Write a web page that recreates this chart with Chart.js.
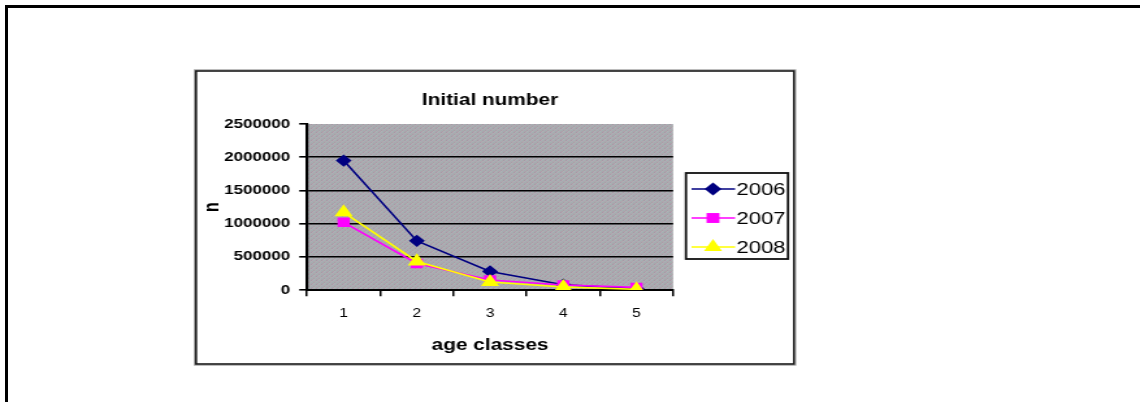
<!DOCTYPE html>
<html>
<head>
<meta charset="utf-8">
<script src="https://cdn.jsdelivr.net/npm/chart.js@4"></script>
<style>
  html, body { margin: 0; padding: 0; background: #fff; overflow: hidden; }
  #frame {
    position: absolute; left: 5px; top: 5px; width: 1200px; height: 500px;
    border-top: 3px solid #000; border-left: 3px solid #000;
  }
  #wrap {
    position: absolute; left: 0; top: 0; width: 877px; height: 402px;
    transform: scaleX(1.29989); transform-origin: 0 0;
  }
  canvas { display: block; }
</style>
</head>
<body>
<div id="frame"></div>
<div id="wrap"><canvas id="c" width="877" height="402" style="width:877px;height:402px"></canvas></div>
<script>
// Age classes on the category axis
const ageClasses = ['1', '2', '3', '4', '5'];

// Initial number per age class, one array per year
const n2006 = [1950000, 740000, 280000, 80000, 20000];
const n2007 = [1020000, 400000, 150000, 75000, 40000];
const n2008 = [1170000, 430000, 120000, 45000, 10000];

// Value axis ticks
const yTicks = [0, 500000, 1000000, 1500000, 2000000, 2500000];

const seriesNames = ['2006', '2007', '2008'];

const FONT = '"Liberation Sans", Arial, sans-serif';

// Grey speckled fill for the plot area
function makePlotPattern(ctx) {
  const p = document.createElement('canvas');
  p.width = 4; p.height = 4;
  const pc = p.getContext('2d');
  const cols = [
    ['#b9a5b2', '#9fb5b5', '#aca8ac', '#a29ca6'],
    ['#a1b1b2', '#b2a2ae', '#a8aeae', '#b5a9b3'],
    ['#acaaac', '#a4a0a8', '#b7a5b0', '#9db2b3'],
    ['#a9a3ab', '#b3afb3', '#a1b3b4', '#afa1ab']
  ];
  for (let r = 0; r < 4; r++) for (let c = 0; c < 4; c++) {
    pc.fillStyle = cols[r][c]; pc.fillRect(c, r, 1, 1);
  }
  return ctx.createPattern(p, 'repeat');
}

const boxPlugin = {
  id: 'chartBox',
  beforeDraw(chart) {
    const ctx = chart.ctx;
    const L = 150.8, T = 71, R = 610.8, B = 364;
    ctx.save();
    ctx.fillStyle = '#fff';
    ctx.fillRect(L, T, R - L, B - T);
    ctx.strokeStyle = '#a0a0a0';
    ctx.lineWidth = 1;
    ctx.strokeRect(L - 1.2, T - 1.2, R - L + 2.4, B - T + 2.4);
    ctx.strokeStyle = '#1a1a1a';
    ctx.lineWidth = 1.6;
    ctx.strokeRect(L, T, R - L, B - T);
    const a = chart.chartArea;
    ctx.fillStyle = makePlotPattern(ctx);
    ctx.fillRect(a.left, a.top, a.right - a.left, a.bottom - a.top);
    ctx.restore();
  }
};

function marker(ctx, style, x, y, r, color) {
  ctx.fillStyle = color;
  ctx.beginPath();
  if (style === 'rectRot') {
    ctx.moveTo(x, y - r); ctx.lineTo(x + r, y); ctx.lineTo(x, y + r); ctx.lineTo(x - r, y);
  } else if (style === 'rect') {
    const s = r * Math.SQRT1_2;
    ctx.rect(x - s, y - s, 2 * s, 2 * s);
  } else {
    const h = r * Math.sin(Math.PI / 3);
    ctx.moveTo(x, y - r); ctx.lineTo(x + h, y + r / 2); ctx.lineTo(x - h, y + r / 2);
  }
  ctx.closePath();
  ctx.fill();
}

const legendPlugin = {
  id: 'boxLegend',
  afterDraw(chart) {
    const ctx = chart.ctx;
    const L = 527.7, T = 173, R = 606.2, B = 259;
    ctx.save();
    ctx.fillStyle = '#fff';
    ctx.fillRect(L, T, R - L, B - T);
    ctx.strokeStyle = '#111';
    ctx.lineWidth = 1.8;
    ctx.strokeRect(L, T, R - L, B - T);
    const rows = [189, 218, 247];
    chart.data.datasets.forEach((ds, i) => {
      const y = rows[i];
      ctx.strokeStyle = ds.borderColor;
      ctx.lineWidth = 1.6;
      ctx.beginPath();
      ctx.moveTo(532, y); ctx.lineTo(565.5, y);
      ctx.stroke();
      marker(ctx, ds.pointStyle, 548.5, y, ds.pointRadius + 1.5, ds.backgroundColor);
      ctx.fillStyle = '#000';
      ctx.font = '17px ' + FONT;
      ctx.textBaseline = 'middle';
      ctx.textAlign = 'left';
      ctx.fillText(ds.label, 566.5, y + 1);
    });
    ctx.restore();
  }
};

new Chart(document.getElementById('c'), {
  type: 'line',
  data: {
    labels: ageClasses,
    datasets: [
      { label: seriesNames[0], data: n2006, borderColor: '#000080', backgroundColor: '#000080',
        pointStyle: 'rectRot', pointRadius: 5, borderWidth: 1.6, order: 3 },
      { label: seriesNames[1], data: n2007, borderColor: '#ff00ff', backgroundColor: '#ff00ff',
        pointStyle: 'rect', pointRadius: 5.5, borderWidth: 1.6, order: 2 },
      { label: seriesNames[2], data: n2008, borderColor: '#ffff00', backgroundColor: '#ffff00',
        pointStyle: 'triangle', pointRadius: 6.5, borderWidth: 1.6, order: 1 }
    ]
  },
  options: {
    responsive: false,
    animation: false,
    devicePixelRatio: 1,
    layout: { padding: { left: 153, right: 359.2, top: 72, bottom: 46.4 } },
    elements: { line: { tension: 0 }, point: { borderWidth: 0, hoverRadius: 6 } },
    plugins: {
      legend: { display: false },
      tooltip: { enabled: false },
      title: {
        display: true, text: 'Initial number', color: '#000', fullSize: false,
        font: { family: FONT, size: 16, weight: 'bold' },
        padding: { top: 18.5, bottom: 14.3 }
      }
    },
    scales: {
      x: {
        offset: true,
        grid: { offset: true, drawOnChartArea: false, drawTicks: true, tickLength: 6.2, tickColor: '#000', lineWidth: 1.5 },
        border: { color: '#000', width: 2 },
        ticks: { padding: 10, color: '#000', font: { family: FONT, size: 12 } },
        title: { display: true, text: 'age classes', color: '#000', padding: 0,
                 font: { family: FONT, size: 16, weight: 'bold' } },
        afterFit: s => { s.height = 65.6; }
      },
      y: {
        min: yTicks[0], max: yTicks[yTicks.length - 1],
        afterBuildTicks: s => { s.ticks = yTicks.map(v => ({ value: v })); },
        grid: {
          color: c => (c.tick && c.tick.value === yTicks[yTicks.length - 1]) ? 'rgba(0,0,0,0)' : '#000',
          tickColor: '#000', lineWidth: 1.6, tickLength: 6
        },
        border: { color: '#000', width: 2.2 },
        ticks: { padding: 7, color: '#000', font: { family: FONT, size: 13, weight: 'bold' },
                 callback: v => String(v) },
        title: { display: true, text: 'n', color: '#000', padding: { top: 1 },
                 font: { family: FONT, size: 16, weight: 'bold' } },
        afterFit: s => { s.width = 83.2; }
      }
    }
  },
  plugins: [boxPlugin, legendPlugin]
});
</script>
</body>
</html>
